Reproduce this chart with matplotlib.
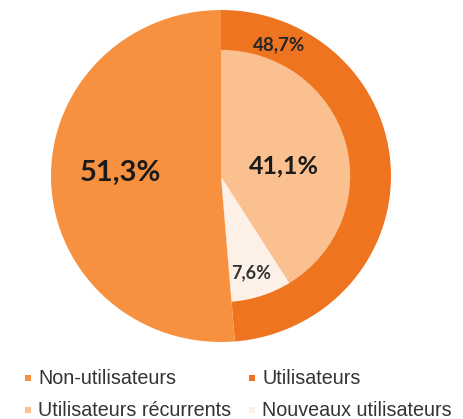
import matplotlib.pyplot as plt
from matplotlib.patches import Rectangle

# Share of non-users vs users, users split into recurring / new
outer_labels = ["Non-utilisateurs", "Utilisateurs"]
outer_values = [51.3, 48.7]
inner_labels = ["Utilisateurs récurrents", "Nouveaux utilisateurs"]
inner_values = [41.1, 7.6]

c_non = "#F7913F"
c_users = "#EE7420"
c_recur = "#FBC08F"
c_new = "#FDF0E6"

fig = plt.figure(figsize=(4.64, 4.19), dpi=100)
ax = fig.add_axes([51 / 464, 77 / 419, 340 / 464, 332 / 419])

# full pie: users clockwise from the top, non-users fill the rest
ax.pie(outer_values[::-1], radius=1.0, startangle=90, counterclock=False,
       colors=[c_users, c_non], wedgeprops=dict(linewidth=0))

# inner breakdown of the users half, the remainder left empty
rest = 100 - sum(inner_values)
ax.pie(inner_values + [rest], radius=0.76, startangle=90, counterclock=False,
       colors=[c_recur, c_new, "none"], wedgeprops=dict(linewidth=0))
ax.set_xlim(-1, 1)
ax.set_ylim(-1, 1)
ax.set_aspect("auto")
ax.axis("off")


def fmt(v):
    return f"{v:.1f}%".replace(".", ",")


lab_font = "Lato"
ax.text(-0.59, 0.02, fmt(outer_values[0]), ha="center", va="center",
        fontsize=21, fontweight="bold", family=lab_font, color="#1a1a1a")
ax.text(0.34, 0.79, fmt(outer_values[1]), ha="center", va="center",
        fontsize=13.5, fontweight="bold", family=lab_font, color="#262626")
ax.text(0.37, 0.06, fmt(inner_values[0]), ha="center", va="center",
        fontsize=18, fontweight="bold", family=lab_font, color="#1a1a1a")
ax.text(0.18, -0.58, fmt(inner_values[1]), ha="center", va="center",
        fontsize=13, fontweight="bold", family=lab_font, color="#333333")

# legend, two columns
W, H = 464, 419
items = [(outer_labels[0], c_non, 25, 378), (outer_labels[1], c_users, 249, 378),
         (inner_labels[0], c_recur, 25, 410), (inner_labels[1], c_new, 249, 410)]
for name, col, x, y in items:
    fig.patches.append(Rectangle((x / W, (H - y - 3) / H), 6 / W, 6 / H,
                                 transform=fig.transFigure, color=col, lw=0))
    fig.text((x + 13) / W, (H - y) / H, name, ha="left", va="center",
             fontsize=14.2, family="Liberation Sans", color="#333333")

fig.savefig("out.png", dpi=100, facecolor="white")
